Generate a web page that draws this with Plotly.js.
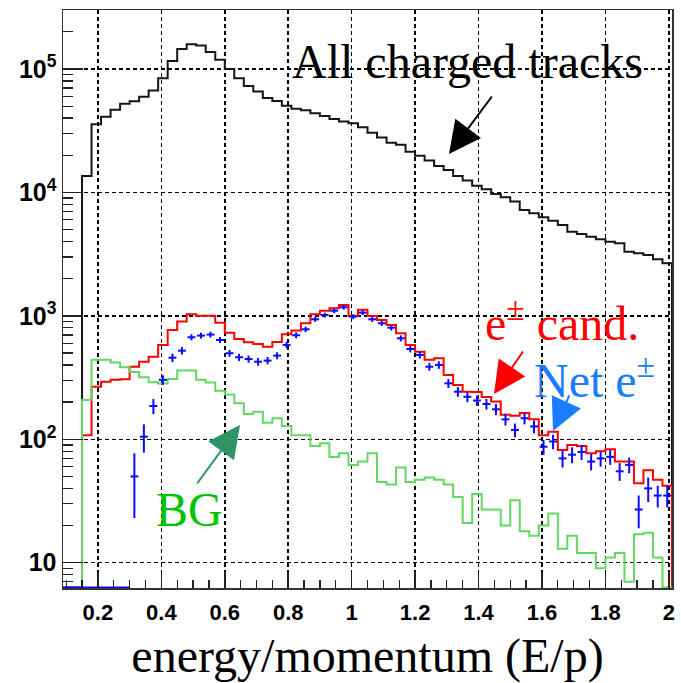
<!DOCTYPE html>
<html>
<head>
<meta charset="utf-8">
<script src="https://cdn.plot.ly/plotly-3.0.1.min.js"></script>
<style>
  html, body { margin: 0; padding: 0; background: #fff; }
  #chart { width: 681px; height: 683px; }
</style>
</head>
<body>
<div id="chart"></div>
<script>
// Histogram binning: 64 bins of width 0.03 in E/p, from 0.09 to 2.01
const BIN_LO = 0.09;
const BIN_W = 0.03;
const N_BINS = 64;

// All charged tracks (counts per bin)
const allTracks = [
  0, 0, 13600, 35700, 41100, 46700, 52200, 54800, 59700, 66800,
  84200, 116000, 145000, 159000, 155000, 137000, 119000, 100000, 84200, 72900,
  65600, 58300, 55100, 50400, 47700, 46400, 43800, 41700, 39400, 37500,
  36400, 33800, 30500, 27800, 25300, 24300, 21400, 19800, 18100, 16400,
  15200, 13600, 12500, 11300, 10600, 9730, 9150, 8430, 7220, 6780,
  6290, 5900, 5450, 4810, 4610, 4380, 4170, 3990, 3870, 3310,
  3210, 3110, 2870, 2670
];

// e+- candidates
const eCandidates = [
  0, 0, 108, 267, 293, 303, 306, 387, 425, 467,
  581, 769, 898, 1030, 1000, 1000, 881, 731, 650, 611,
  592, 563, 615, 710, 760, 871, 1030, 1100, 1150, 1225,
  998, 1120, 998, 927, 844, 723, 581, 513, 440, 453,
  332, 275, 243, 241, 220, 202, 158, 155, 163, 145,
  108, 115, 82, 90, 88, 77, 80, 83, 66, 66,
  44, 56, 47, 42
];

// Background estimate
const background = [
  0, 0, 208, 440, 440, 418, 383, 351, 318, 290,
  283, 308, 360, 360, 303, 288, 247, 231, 196, 160,
  167, 136, 148, 128, 108, 108, 88, 93, 72, 77,
  62, 66, 77, 45, 43, 59, 45, 47, 49, 47,
  43, 34, 21, 36, 27, 27, 20, 32, 18, 16.5,
  20, 25, 13, 16.5, 12, 12, 9, 11, 12, 7,
  17, 17.5, 11, 0
];

// Net e+- (candidates minus background) and its uncertainty
const netElectrons = [
  null, null, null, null, null, null, null, 50, 105, 186,
  303, 458, 522, 671, 692, 705, 638, 498, 462, 447,
  425, 434, 476, 581, 696, 778, 938, 1016, 1101, 1173,
  986, 1062, 938, 871, 802, 658, 539, 482, 387, 400,
  284, 243, 221, 206, 193, 175, 145, 119, 148, 127,
  87, 96, 70, 75, 79, 66, 70, 72, 55, 62,
  27, 40, 35, 35
];
const netErrors = [
  null, null, null, null, null, null, null, 27, 27, 26,
  27, 36, 36, 38, 38, 38, 36, 32, 31, 30,
  30, 30, 31, 34, 38, 40, 44, 46, 48, 50,
  45, 47, 45, 43, 41, 37, 33, 31, 28, 28,
  24, 22, 21, 20, 19, 18, 16, 15, 16, 15,
  12, 13, 11, 11, 11, 10, 10, 10, 9, 9,
  8, 9, 7, 7
];

// Axis ranges (y in log10 units)
const X_RANGE = [BIN_LO, BIN_LO + N_BINS * BIN_W];
const Y_RANGE = [0.795, 5.478];
const FLOOR = Math.pow(10, Y_RANGE[0] + 0.004);

const edge = i => BIN_LO + i * BIN_W;
const center = i => BIN_LO + (i + 0.5) * BIN_W;

// Step outline of a histogram; empty bins are drawn along the bottom of the frame
function stepOutline(vals) {
  const xs = [], ys = [];
  for (let i = 0; i < vals.length; i++) {
    xs.push(edge(i));
    ys.push(vals[i] > 0 ? vals[i] : FLOOR);
  }
  const last = vals[vals.length - 1];
  xs.push(edge(vals.length)); ys.push(last > 0 ? last : FLOOR);
  xs.push(edge(vals.length)); ys.push(FLOOR);
  return { x: xs, y: ys };
}

function histTrace(vals, color, width) {
  const s = stepOutline(vals);
  return {
    type: 'scatter', mode: 'lines', x: s.x, y: s.y,
    line: { shape: 'hv', color: color, width: width },
    hoverinfo: 'skip', showlegend: false
  };
}

const BLACK = '#151515';
const RED = '#ff0000';
const GREEN = '#62d862';
const BLUE = '#0a0aff';
const NET_TEXT = '#1a7cff';
const BG_TEXT = '#00c400';
const BG_ARROW = '#2e9466';
const AXIS = '#222';

// Net e+- points with error bars
const netX = [], netY = [], netE = [];
let firstNet = -1;
netElectrons.forEach((v, i) => {
  if (v !== null) {
    if (firstNet < 0) firstNet = i;
    netX.push(center(i)); netY.push(v); netE.push(netErrors[i]);
  }
});

const traces = [
  histTrace(allTracks, BLACK, 2),
  histTrace(eCandidates, RED, 2),
  histTrace(background, GREEN, 2),
  {
    // empty net bins drawn along the lower frame edge
    type: 'scatter', mode: 'lines',
    x: [edge(0), edge(firstNet)], y: [FLOOR, FLOOR],
    line: { color: BLUE, width: 2 }, hoverinfo: 'skip', showlegend: false
  },
  {
    type: 'scatter', mode: 'markers', x: netX, y: netY,
    marker: { size: 1, color: 'rgba(0,0,0,0)' },
    error_y: { type: 'data', array: netE, symmetric: true, color: BLUE, thickness: 2, width: 0 },
    error_x: { type: 'constant', value: 0.0125, color: BLUE, thickness: 2, width: 0 },
    hoverinfo: 'skip', showlegend: false
  }
];

// Minor ticks on the log axis: 2..9 times each decade
const yMinor = [];
for (let d = 0; d <= 5; d++) {
  for (let m = 2; m <= 9; m++) yMinor.push(m * Math.pow(10, d));
}
const yTickVals = [10, 100, 1000, 10000, 100000];
const yTickText = ['10', '10<sup>2</sup>', '10<sup>3</sup>', '10<sup>4</sup>', '10<sup>5</sup>'];

const SERIF = 'Liberation Serif, Times New Roman, serif';
const SANS = 'Liberation Sans, Arial, sans-serif';

const P = { x0: 63, w: 609, top: 10, h: 578 };
const px = x => (x - P.x0) / P.w;
const py = y => (P.top + P.h - y) / P.h;

function label(text, x, y, color) {
  return {
    xref: 'paper', yref: 'paper', x: px(x), y: py(y),
    xanchor: 'center', yanchor: 'middle', text: text, showarrow: false,
    font: { family: SERIF, size: 48, color: color }
  };
}
function arrow(tipX, tipY, tailX, tailY, color) {
  return {
    xref: 'paper', yref: 'paper', x: px(tipX), y: py(tipY),
    ax: tailX - tipX, ay: tailY - tipY, text: '', showarrow: true,
    arrowhead: 2, arrowsize: 3.2, arrowwidth: 2, arrowcolor: color, standoff: 0
  };
}

const layout = {
  width: 681, height: 683,
  margin: { l: 63, r: 9, t: 10, b: 95 },
  paper_bgcolor: '#fff', plot_bgcolor: '#fff',
  showlegend: false,
  xaxis: {
    range: X_RANGE, tick0: 0.2, dtick: 0.2,
    ticks: 'inside', ticklen: 16, tickwidth: 1.5, tickcolor: AXIS,
    minor: { tick0: 0.1, dtick: 0.05, ticks: 'inside', ticklen: 8, tickwidth: 1.3, tickcolor: AXIS, showgrid: false },
    showgrid: true, gridcolor: '#000', griddash: '4px,3px', gridwidth: 1.5,
    showline: true, mirror: true, linecolor: '#333', linewidth: 1.5,
    zeroline: false,
    tickfont: { family: SANS, size: 22, color: '#000', weight: 700 },
    ticklabelstandoff: 4,
    title: { text: 'energy/momentum (E/p)', font: { family: SERIF, size: 48, color: '#000' }, standoff: 17 }
  },
  yaxis: {
    type: 'log', range: Y_RANGE,
    tickmode: 'array', tickvals: yTickVals, ticktext: yTickText,
    ticks: 'inside', ticklen: 20, tickwidth: 1.5, tickcolor: AXIS,
    minor: { tickmode: 'array', tickvals: yMinor, ticks: 'inside', ticklen: 10, tickwidth: 1.3, tickcolor: AXIS, showgrid: false },
    showgrid: true, gridcolor: '#000', griddash: '4px,3px', gridwidth: 1.5,
    showline: true, mirror: true, linecolor: '#333', linewidth: 1.5,
    zeroline: false,
    tickfont: { family: SANS, size: 25, color: '#000', weight: 700 }
  },
  annotations: [
    label('All charged tracks', 467, 61, '#000'),
    label('e<sup>±</sup> cand.', 562, 320, RED),
    label('Net e<sup>±</sup>', 594, 377, NET_TEXT),
    label('BG', 189, 510, BG_TEXT),
    arrow(449, 154, 493, 95, '#000'),
    arrow(494, 394, 524, 350, RED),
    arrow(553, 431, 570, 394, NET_TEXT),
    arrow(240, 425, 196, 485, BG_ARROW)
  ]
};

Plotly.newPlot('chart', traces, layout, { staticPlot: true, displayModeBar: false });
</script>
</body>
</html>
